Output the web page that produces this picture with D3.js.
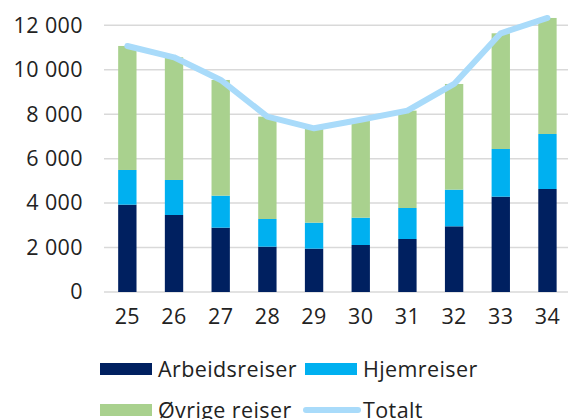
<!DOCTYPE html>
<html><head><meta charset="utf-8">
<script src="https://cdn.jsdelivr.net/npm/d3@7"></script>
<style>body{margin:0;background:#fff}svg{display:block}text{font-family:"Open Sans",sans-serif;fill:#222}</style>
</head><body><svg id="c" width="568" height="419"></svg>
<script>
const categories = ["25","26","27","28","29","30","31","32","33","34"];
const arbeidsreiser = [3930,3465,2895,2040,1950,2115,2385,2955,4290,4635];
const hjemreiser    = [1560,1575,1440,1245,1170,1230,1395,1650,2145,2475];
const ovrige        = [5580,5520,5205,4605,4245,4405,4380,4755,5205,5220];
const totalt        = categories.map((c,i)=>arbeidsreiser[i]+hjemreiser[i]+ovrige[i]);
const yTicks = [0,2000,4000,6000,8000,10000,12000];
const seriesNames = ["Arbeidsreiser","Hjemreiser","Øvrige reiser","Totalt"];
const colors = ["#002060","#00B0F0","#A9D18E","#A9DBFA"];
const FS = 21.5;

const svg = d3.select("#c");
const x = d3.scaleBand().domain(categories).range([104,570.8]).paddingInner(0.607).paddingOuter(0.3035);
const y = d3.scaleLinear().domain([0,12000]).range([292,25.3]);
const fmt = v => d3.format(",")(v).replace(/,/g," ");

// gridlines
svg.append("g").selectAll("line").data(yTicks).join("line")
  .attr("x1",104).attr("x2",568).attr("y1",d=>y(d)).attr("y2",d=>y(d))
  .attr("stroke","#d9d9d9").attr("stroke-width",1.5);

// y axis labels
const yAxis = d3.axisLeft(y).tickValues(yTicks).tickFormat(fmt).tickSize(0).tickPadding(0);
const ya = svg.append("g").attr("transform","translate(83,0)").call(yAxis);
ya.select(".domain").remove();
ya.selectAll("text").attr("font-size",FS).attr("font-family","'Open Sans',sans-serif").attr("fill","#222").attr("letter-spacing",0.4);

// x axis labels
const xAxis = d3.axisBottom(x).tickSize(0).tickPadding(0);
const xa = svg.append("g").attr("transform","translate(0,309)").call(xAxis);
xa.select(".domain").remove();
xa.selectAll("text").attr("font-size",FS).attr("font-family","'Open Sans',sans-serif").attr("fill","#222").attr("letter-spacing",0.4);

// stacked bars
const rows = categories.map((c,i)=>({cat:c,a:arbeidsreiser[i],h:hjemreiser[i],o:ovrige[i]}));
const stack = d3.stack().keys(["a","h","o"])(rows);
svg.append("g").selectAll("g").data(stack).join("g").attr("fill",(d,i)=>colors[i])
  .selectAll("rect").data(d=>d).join("rect")
  .attr("x",d=>x(d.data.cat)).attr("width",x.bandwidth())
  .attr("y",d=>y(d[1])).attr("height",d=>y(d[0])-y(d[1]));

// total line
const line = d3.line().x((d,i)=>x(categories[i])+x.bandwidth()/2).y(d=>y(d));
svg.append("path").datum(totalt).attr("d",line).attr("fill","none")
  .attr("stroke",colors[3]).attr("stroke-width",6).attr("stroke-linejoin","round").attr("stroke-linecap","round");

// legend
const leg = [
  {n:seriesNames[0],c:colors[0],x:100,y:369,t:"rect"},
  {n:seriesNames[1],c:colors[1],x:305,y:369,t:"rect"},
  {n:seriesNames[2],c:colors[2],x:100,y:410,t:"rect"},
  {n:seriesNames[3],c:colors[3],x:305,y:410,t:"line"}
];
const lg = svg.append("g").selectAll("g").data(leg).join("g").attr("transform",d=>`translate(${d.x},${d.y})`);
lg.filter(d=>d.t==="rect").append("rect").attr("x",0).attr("y",-6).attr("width",52).attr("height",12).attr("fill",d=>d.c);
lg.filter(d=>d.t==="line").append("line").attr("x1",1).attr("x2",53).attr("y1",0).attr("y2",0)
  .attr("stroke",d=>d.c).attr("stroke-width",6).attr("stroke-linecap","round");
lg.append("text").attr("x",58).attr("y",7.5).attr("font-size",FS).attr("letter-spacing",0.4).text(d=>d.n);
</script></body></html>
